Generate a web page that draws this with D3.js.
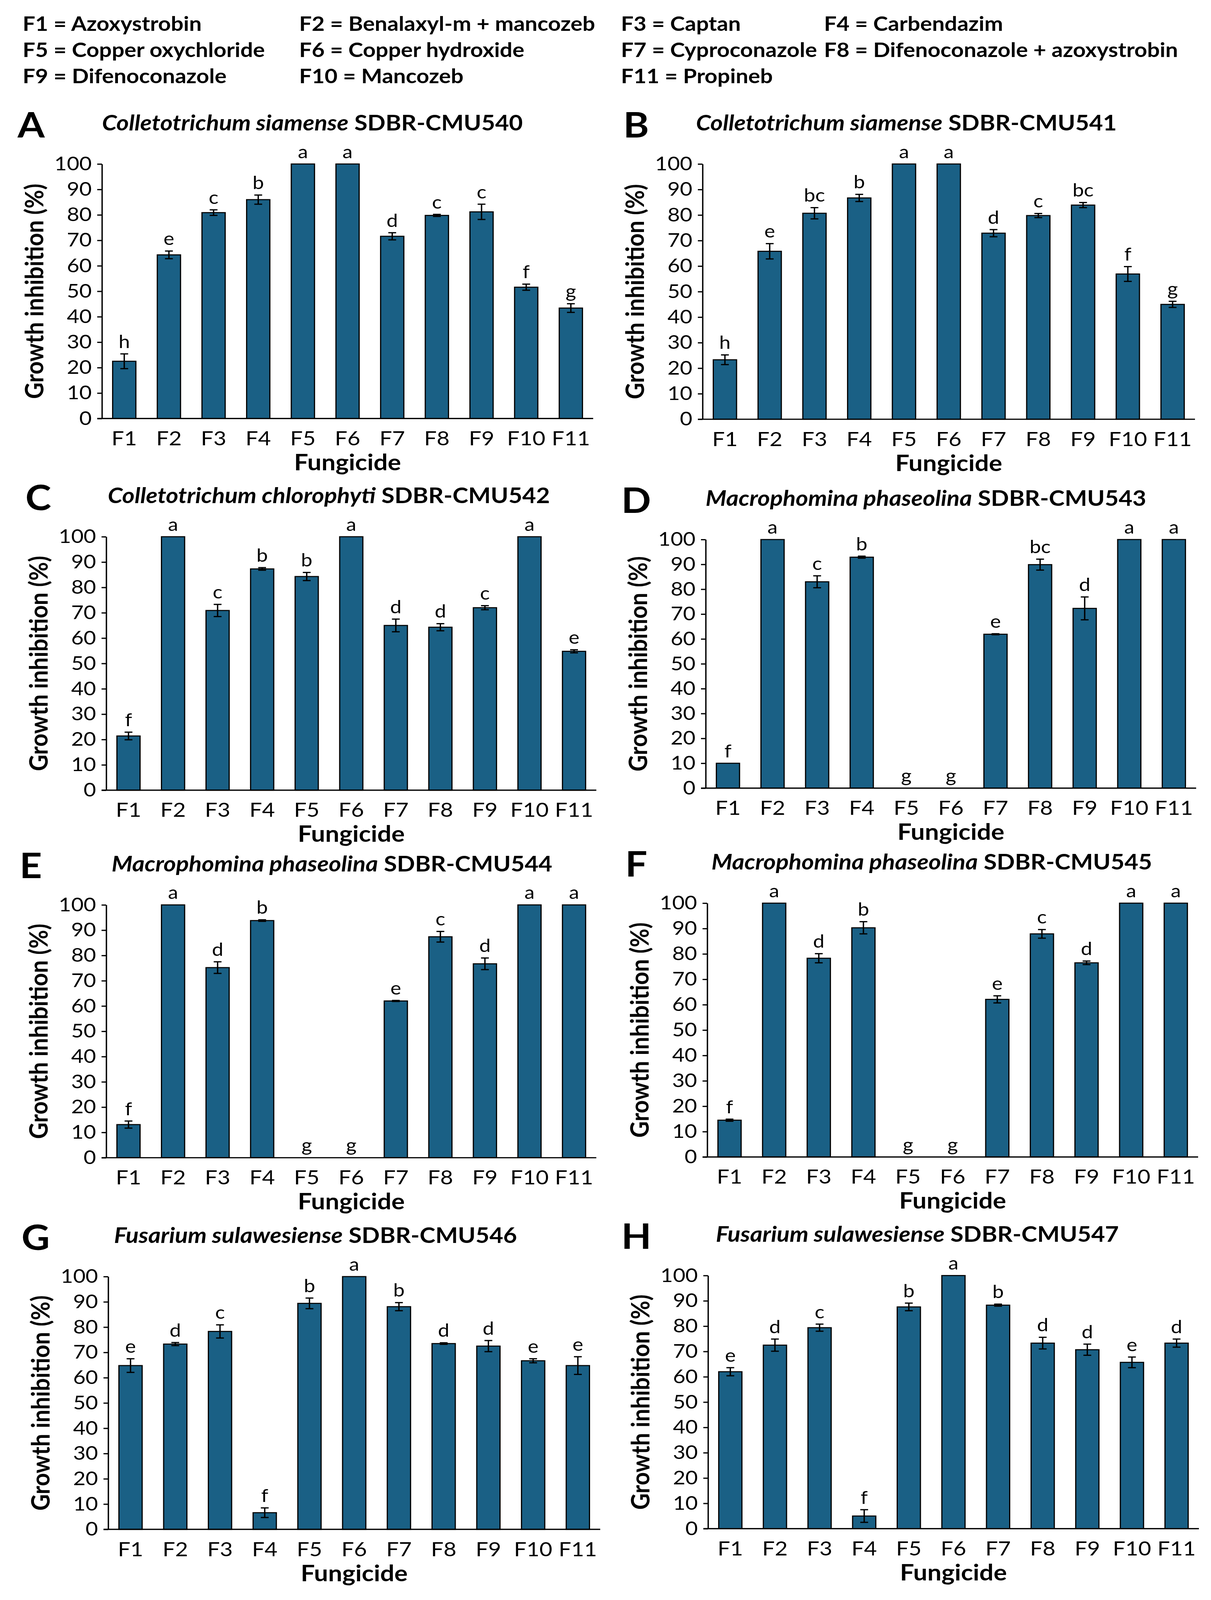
<!DOCTYPE html>
<html>
<head>
<meta charset="utf-8">
<script src="https://cdn.jsdelivr.net/npm/d3@7"></script>
<style>
  html, body { margin: 0; background: #fff; overflow: hidden; }
  svg { display: block; font-family: Lato, "Open Sans", sans-serif; }
</style>
</head>
<body>
<div id="chart"></div>
<script>
// fungicide codes and names (legend at the top)
const fungicides = ["F1", "F2", "F3", "F4", "F5", "F6", "F7", "F8", "F9", "F10", "F11"];
const fungicideNames = ["Azoxystrobin", "Benalaxyl-m + mancozeb", "Captan", "Carbendazim",
  "Copper oxychloride", "Copper hydroxide", "Cyproconazole", "Difenoconazole + azoxystrobin",
  "Difenoconazole", "Mancozeb", "Propineb"];

const yTicks = [0, 10, 20, 30, 40, 50, 60, 70, 80, 90, 100];

// panel labels and titles
const panelLetters = ["A", "B", "C", "D", "E", "F", "G", "H"];
const species = ["Colletotrichum siamense", "Colletotrichum siamense", "Colletotrichum chlorophyti",
  "Macrophomina phaseolina", "Macrophomina phaseolina", "Macrophomina phaseolina",
  "Fusarium sulawesiense", "Fusarium sulawesiense"];
const strains = ["SDBR-CMU540", "SDBR-CMU541", "SDBR-CMU542", "SDBR-CMU543",
  "SDBR-CMU544", "SDBR-CMU545", "SDBR-CMU546", "SDBR-CMU547"];

// growth inhibition (%) per panel, F1..F11
const valuesA = [22.5, 64.3, 80.9, 86.0, 100, 100, 71.6, 79.8, 81.2, 51.6, 43.4];
const valuesB = [23.3, 65.8, 80.7, 86.7, 100, 100, 72.9, 79.8, 83.9, 56.9, 45.0];
const valuesC = [21.4, 100, 70.9, 87.3, 84.3, 100, 65.0, 64.3, 72.0, 100, 54.8];
const valuesD = [10.0, 100, 83.0, 92.9, 0, 0, 61.9, 89.9, 72.3, 100, 100];
const valuesE = [13.1, 100, 75.2, 93.8, 0, 0, 62.0, 87.4, 76.7, 100, 100];
const valuesF = [14.5, 100, 78.3, 90.3, 0, 0, 62.1, 87.9, 76.5, 100, 100];
const valuesG = [64.8, 73.3, 78.3, 6.6, 89.4, 100, 88.1, 73.5, 72.5, 66.7, 64.8];
const valuesH = [62.0, 72.5, 79.4, 5.0, 87.6, 100, 88.3, 73.3, 70.7, 65.7, 73.3];

// error bars (+/-)
const errorsA = [2.9, 1.5, 1.1, 1.8, 0, 0, 1.4, 0.4, 3.0, 1.2, 1.7];
const errorsB = [1.9, 3.0, 2.2, 1.4, 0, 0, 1.4, 0.8, 1.0, 2.9, 1.2];
const errorsC = [1.5, 0, 2.4, 0.5, 1.6, 0, 2.5, 1.4, 0.8, 0, 0.6];
const errorsD = [0, 0, 2.4, 0.4, 0, 0, 0.2, 2.2, 4.6, 0, 0];
const errorsE = [1.4, 0, 2.3, 0.3, 0, 0, 0.2, 2.1, 2.3, 0, 0];
const errorsF = [0.4, 0, 1.8, 2.4, 0, 0, 1.4, 1.7, 0.7, 0, 0];
const errorsG = [2.7, 0.6, 2.6, 1.9, 2.1, 0, 1.6, 0.3, 2.2, 0.8, 3.5];
const errorsH = [1.6, 2.4, 1.4, 2.5, 1.5, 0, 0.4, 2.3, 2.2, 2.1, 1.6];

// significance letters
const lettersA = ["h", "e", "c", "b", "a", "a", "d", "c", "c", "f", "g"];
const lettersB = ["h", "e", "bc", "b", "a", "a", "d", "c", "bc", "f", "g"];
const lettersC = ["f", "a", "c", "b", "b", "a", "d", "d", "c", "a", "e"];
const lettersD = ["f", "a", "c", "b", "g", "g", "e", "bc", "d", "a", "a"];
const lettersE = ["f", "a", "d", "b", "g", "g", "e", "c", "d", "a", "a"];
const lettersF = ["f", "a", "d", "b", "g", "g", "e", "c", "d", "a", "a"];
const lettersG = ["e", "d", "c", "f", "b", "a", "b", "d", "d", "e", "e"];
const lettersH = ["e", "d", "c", "f", "b", "a", "b", "d", "d", "e", "d"];

const allValues = [valuesA, valuesB, valuesC, valuesD, valuesE, valuesF, valuesG, valuesH];
const allErrors = [errorsA, errorsB, errorsC, errorsD, errorsE, errorsF, errorsG, errorsH];
const allLetters = [lettersA, lettersB, lettersC, lettersD, lettersE, lettersF, lettersG, lettersH];

// plot frames of each panel (in figure pixels, 3101 x 4576)
const frames = [
  { x0: 261, x1: 1519, yTop: 469, yBot: 1197, titleX: 800, letterX: 45 },
  { x0: 1799, x1: 3060, yTop: 469, yBot: 1199, titleX: 2321, letterX: 1596 },
  { x0: 272, x1: 1527, yTop: 1535, yBot: 2260, titleX: 842, letterX: 65 },
  { x0: 1807, x1: 3063, yTop: 1543, yBot: 2254, titleX: 2371, letterX: 1591 },
  { x0: 272, x1: 1527, yTop: 2588, yBot: 3311, titleX: 850, letterX: 50 },
  { x0: 1811, x1: 3068, yTop: 2583, yBot: 3309, titleX: 2386, letterX: 1601 },
  { x0: 277, x1: 1537, yTop: 3651, yBot: 4374, titleX: 808, letterX: 55 },
  { x0: 1813, x1: 3070, yTop: 3648, yBot: 4372, titleX: 2349, letterX: 1591 }
];

const W = 3101, H = 4576;
const barColor = "#1a6085";

// the window may be shorter than the figure: fit the whole figure into it
const outW = Math.min(W, window.innerWidth || W);
const outH = Math.min(H, window.innerHeight || H);

const svg = d3.select("#chart").append("svg")
    .attr("width", outW)
    .attr("height", outH)
    .attr("viewBox", `0 0 ${W} ${H}`)
    .attr("preserveAspectRatio", "none");

svg.append("rect").attr("width", W).attr("height", H).attr("fill", "#fff");

// legend
const legendCols = [58, 766, 1590, 2110];
const legendRows = [88, 163, 238];
svg.append("g").selectAll("text")
    .data(fungicides)
    .enter().append("text")
    .attr("x", (d, i) => legendCols[i % 4])
    .attr("y", (d, i) => legendRows[Math.floor(i / 4)])
    .style("font-size", "57px")
    .style("font-weight", "bold")
    .text((d, i) => `${d} = ${fungicideNames[i]}`);

frames.forEach((f, p) => {
    const values = allValues[p], errors = allErrors[p], letters = allLetters[p];
    const data = fungicides.map((k, i) => ({ k, v: values[i], e: errors[i], l: letters[i] }));

    const x = d3.scaleBand().domain(fungicides).range([f.x0, f.x1])
        .paddingInner(0.48).paddingOuter(0.24);
    const y = d3.scaleLinear().domain([0, 100]).range([f.yBot, f.yTop]);

    const g = svg.append("g");

    // panel letter + title
    g.append("text")
        .attr("x", f.letterX)
        .attr("y", f.yTop - 76)
        .style("font-size", "100px")
        .style("font-weight", "bold")
        .text(panelLetters[p]);

    const title = g.append("text")
        .attr("x", f.titleX)
        .attr("y", f.yTop - 96)
        .attr("text-anchor", "middle")
        .style("font-size", "61px")
        .style("font-weight", "bold");
    title.append("tspan").style("font-style", "italic").text(species[p]);
    title.append("tspan").text(" " + strains[p]);

    // bars
    g.selectAll("rect.bar")
        .data(data.filter(d => d.v > 0))
        .enter().append("rect")
        .attr("class", "bar")
        .attr("x", d => x(d.k))
        .attr("width", x.bandwidth())
        .attr("y", d => y(d.v))
        .attr("height", d => y(0) - y(d.v))
        .attr("fill", barColor)
        .attr("stroke", "#000")
        .attr("stroke-width", 3);

    // error bars
    const eb = g.selectAll("g.err")
        .data(data.filter(d => d.e > 0))
        .enter().append("g")
        .attr("class", "err")
        .attr("stroke", "#000")
        .attr("stroke-width", 3.5);
    eb.append("line")
        .attr("x1", d => x(d.k) + x.bandwidth() / 2)
        .attr("x2", d => x(d.k) + x.bandwidth() / 2)
        .attr("y1", d => y(d.v - d.e))
        .attr("y2", d => y(d.v + d.e));
    [-1, 1].forEach(s => {
        eb.append("line")
            .attr("x1", d => x(d.k) + x.bandwidth() / 2 - 10)
            .attr("x2", d => x(d.k) + x.bandwidth() / 2 + 10)
            .attr("y1", d => y(d.v + s * d.e))
            .attr("y2", d => y(d.v + s * d.e));
    });

    // significance letters
    g.selectAll("text.sig")
        .data(data)
        .enter().append("text")
        .attr("class", "sig")
        .attr("x", d => x(d.k) + x.bandwidth() / 2)
        .attr("y", d => y(d.v + d.e) - 17)
        .attr("text-anchor", "middle")
        .style("font-size", "52px")
        .text(d => d.l);

    // y axis
    const yAxis = g.append("g")
        .attr("transform", `translate(${f.x0},0)`)
        .call(d3.axisLeft(y).tickValues(yTicks).tickSize(12).tickSizeOuter(0).tickPadding(14));
    yAxis.select(".domain").attr("stroke", "#000").attr("stroke-width", 3.5);
    yAxis.selectAll(".tick line").attr("stroke", "#000").attr("stroke-width", 3.5);
    yAxis.selectAll(".tick text").style("font-size", "55px").style("font-family", "Lato").attr("fill", "#000");

    // x axis
    const xAxis = g.append("g")
        .attr("transform", `translate(0,${f.yBot})`)
        .call(d3.axisBottom(x).tickSize(0).tickPadding(36));
    xAxis.select(".domain").remove();
    xAxis.selectAll(".tick text").style("font-size", "57px").style("font-family", "Lato").attr("fill", "#000");
    g.append("line")
        .attr("x1", f.x0 - 12).attr("x2", f.x1)
        .attr("y1", f.yBot).attr("y2", f.yBot)
        .attr("stroke", "#000").attr("stroke-width", 3.5);

    // axis titles
    g.append("text")
        .attr("transform", `translate(${f.x0 - 150},${(f.yTop + f.yBot) / 2}) rotate(-90)`)
        .attr("text-anchor", "middle")
        .style("font-size", "65px")
        .style("font-weight", "bold")
        .text("Growth inhibition (%)");

    g.append("text")
        .attr("x", (f.x0 + f.x1) / 2)
        .attr("y", f.yBot + 148)
        .attr("text-anchor", "middle")
        .style("font-size", "64px")
        .style("font-weight", "bold")
        .text("Fungicide");
});
</script>
</body>
</html>
